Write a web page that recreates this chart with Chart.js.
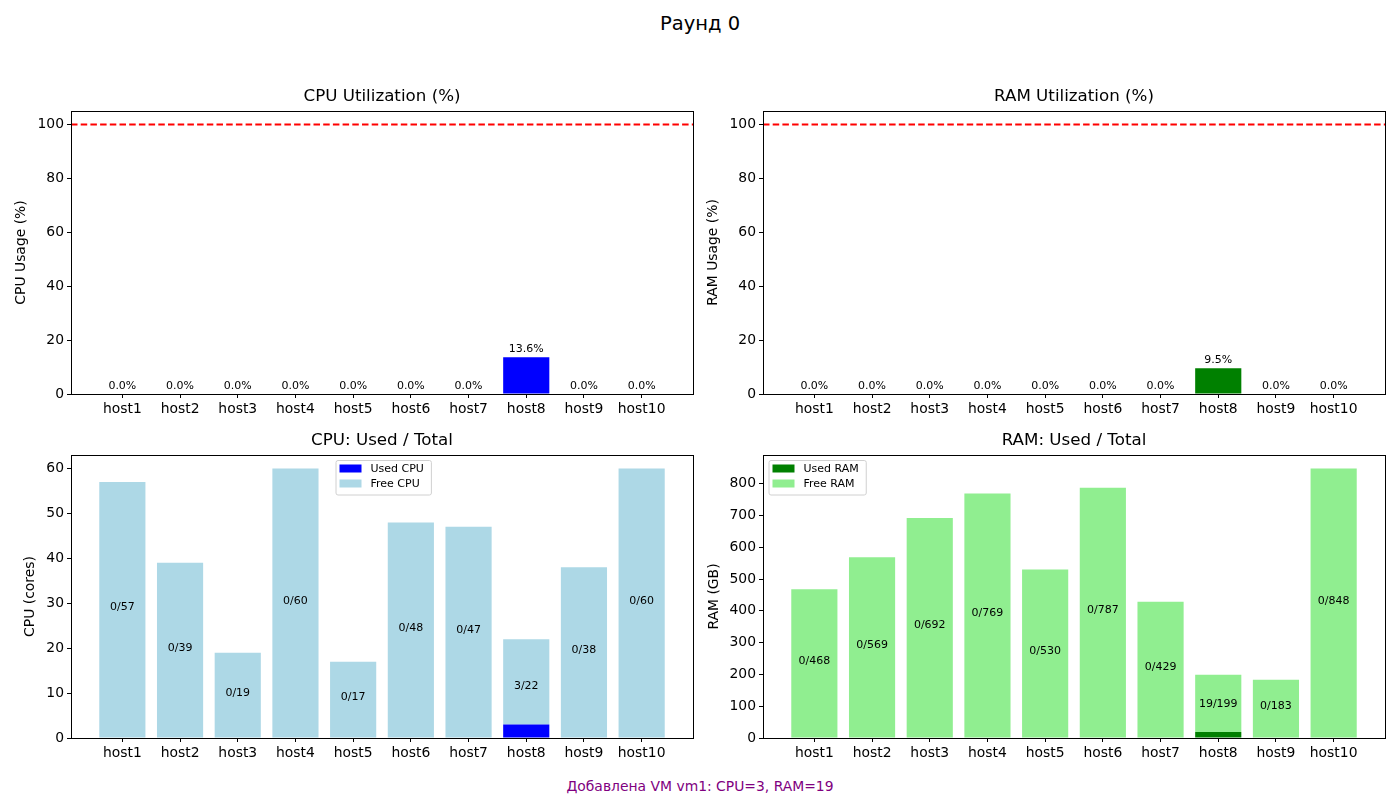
<!DOCTYPE html>
<html>
<head>
<meta charset="utf-8">
<script src="https://cdn.jsdelivr.net/npm/chart.js@4.4.1/dist/chart.umd.min.js"></script>
<style>
  body { margin: 0; background: #fff; font-family: "DejaVu Sans", sans-serif; }
  #fig { position: relative; width: 1400px; height: 800px; background: #fff; }
  canvas { position: absolute; }
  .txt { position: absolute; left: 0; width: 1400px; text-align: center; white-space: nowrap; }
</style>
</head>
<body>
<div id="fig">
  <div class="txt" id="suptitle" style="top: 12px; font-size: 19.5px; color: #000;">Раунд 0</div>
  <canvas id="cpuPct" width="700" height="340" style="left:0px; top:80px;"></canvas>
  <canvas id="ramPct" width="700" height="340" style="left:692px; top:80px;"></canvas>
  <canvas id="cpuAbs" width="700" height="340" style="left:0px; top:424px;"></canvas>
  <canvas id="ramAbs" width="700" height="340" style="left:692px; top:424px;"></canvas>
  <div class="txt" id="note" style="top: 778px; font-size: 13.9px; color: #800080;">Добавлена VM vm1: CPU=3, RAM=19</div>
</div>
<script>
// data
const hosts = ['host1', 'host2', 'host3', 'host4', 'host5', 'host6', 'host7', 'host8', 'host9', 'host10'];
const cpuTotal = [57, 39, 19, 60, 17, 48, 47, 22, 38, 60];
const cpuUsed = [0, 0, 0, 0, 0, 0, 0, 3, 0, 0];
const ramTotal = [468, 569, 692, 769, 530, 787, 429, 199, 183, 848];
const ramUsed = [0, 0, 0, 0, 0, 0, 0, 19, 0, 0];
const limitPct = 100;

// y tick labels
const pctTicks = [0, 20, 40, 60, 80, 100];
const cpuTicks = [0, 10, 20, 30, 40, 50, 60];
const ramTicks = [0, 100, 200, 300, 400, 500, 600, 700, 800];

const cpuPct = cpuUsed.map((u, i) => u / cpuTotal[i] * 100);
const ramPct = ramUsed.map((u, i) => u / ramTotal[i] * 100);

Chart.defaults.font.family = '"DejaVu Sans", sans-serif';
Chart.defaults.color = '#000';

// matplotlib style x range: bars 0.8 wide plus 5% margins
const xMin = -0.89, xMax = 9.89;

// full box around the plot area + title centred over the axes
const framePlugin = {
    id: 'frame',
    afterDraw(chart, args, opts) {
        const a = chart.chartArea, ctx = chart.ctx;
        ctx.save();
        ctx.strokeStyle = '#000';
        ctx.lineWidth = 1;
        ctx.strokeRect(Math.round(a.left) + 0.5, Math.round(a.top) + 0.5,
            Math.round(a.right - a.left), Math.round(a.bottom - a.top));
        if (opts.title) {
            ctx.fillStyle = '#000';
            ctx.font = '16.7px "DejaVu Sans", sans-serif';
            ctx.textAlign = 'center';
            ctx.textBaseline = 'middle';
            ctx.fillText(opts.title, (a.left + a.right) / 2, a.top - 14);
        }
        ctx.restore();
    }
};

// text over bars
const barTextPlugin = {
    id: 'barText',
    afterDatasetsDraw(chart, args, opts) {
        if (!opts.labels) return;
        const ctx = chart.ctx, xs = chart.scales.x, ys = chart.scales.y;
        ctx.save();
        ctx.font = '11px "DejaVu Sans", sans-serif';
        ctx.fillStyle = '#000';
        ctx.textAlign = 'center';
        opts.labels.forEach((lab, i) => {
            const px = xs.getPixelForValue(i);
            if (opts.mode === 'top') {
                ctx.textBaseline = 'bottom';
                ctx.fillText(lab, px, ys.getPixelForValue(opts.heights[i] + 1));
            } else {
                ctx.textBaseline = 'middle';
                ctx.fillText(lab, px, ys.getPixelForValue(opts.heights[i] / 2) - 2.5);
            }
        });
        ctx.restore();
    }
};

// legend drawn inside the axes, like matplotlib
const boxLegendPlugin = {
    id: 'boxLegend',
    afterDraw(chart, args, opts) {
        if (!opts.show) return;
        const ctx = chart.ctx, a = chart.chartArea;
        const sets = chart.data.datasets.filter(d => d.type !== 'line');
        ctx.save();
        ctx.font = '11px "DejaVu Sans", sans-serif';
        let tw = 0;
        sets.forEach(d => { tw = Math.max(tw, ctx.measureText(d.label).width); });
        const x = a.left + opts.dx, y = a.top + opts.dy;
        const w = tw + 42, h = 34.5;
        ctx.fillStyle = 'rgba(255,255,255,0.8)';
        ctx.strokeStyle = '#d0d0d0';
        ctx.lineWidth = 1;
        ctx.beginPath();
        ctx.roundRect(x + 0.5, y + 0.5, w, h, 2);
        ctx.fill();
        ctx.stroke();
        sets.forEach((d, k) => {
            const cy = y + 8.5 + k * 15;
            ctx.fillStyle = d.backgroundColor;
            ctx.fillRect(x + 4, cy - 4, 22, 8);
            ctx.fillStyle = '#000';
            ctx.textAlign = 'left';
            ctx.textBaseline = 'middle';
            ctx.fillText(d.label, x + 35, cy + 0.5);
        });
        ctx.restore();
    }
};

function axes(yMax, yTicks, yTitle, titlePad, stacked) {
    return {
        x: {
            type: 'linear', min: xMin, max: xMax, stacked: stacked, offset: false,
            grid: { display: true, offset: false, drawOnChartArea: false, drawTicks: true, tickLength: 4, color: '#000' },
            border: { display: false },
            ticks: {
                stepSize: 1, includeBounds: false, autoSkip: false, maxRotation: 0, padding: 3,
                font: { size: 13.9 },
                callback: v => (Number.isInteger(v) && hosts[v]) ? hosts[v] : ''
            },
            afterBuildTicks: s => { s.ticks = hosts.map((h, i) => ({ value: i })); },
            afterFit: s => { s.height = 26; }
        },
        y: {
            min: 0, max: yMax, stacked: stacked,
            grid: { display: true, drawOnChartArea: false, drawTicks: true, tickLength: 4, color: '#000' },
            border: { display: false },
            ticks: { autoSkip: false, padding: 3, font: { size: 13.9 } },
            afterBuildTicks: s => { s.ticks = yTicks.map(v => ({ value: v })); },
            title: { display: true, text: yTitle, font: { size: 13.9 }, padding: { top: titlePad, bottom: 0 } },
            afterFit: s => { s.width = 71; }
        }
    };
}

function baseOptions(title, scales, plugins) {
    return {
        responsive: false,
        animation: false,
        events: [],
        devicePixelRatio: 1,
        layout: { padding: { left: 0, right: 7, top: 31, bottom: 0 }, autoPadding: false },
        scales: scales,
        plugins: Object.assign({
            legend: { display: false },
            tooltip: { enabled: false },
            title: { display: false },
            frame: { title: title }
        }, plugins)
    };
}

function pctChart(id, title, yTitle, titlePad, pct, color) {
    return new Chart(document.getElementById(id), {
        type: 'bar',
        data: {
            datasets: [
                {
                    label: title,
                    data: pct.map((v, i) => ({ x: i, y: v })),
                    backgroundColor: color,
                    barPercentage: 1.0, categoryPercentage: 0.8
                },
                {
                    type: 'line',
                    label: 'limit',
                    data: [{ x: xMin, y: limitPct }, { x: xMax, y: limitPct }],
                    borderColor: '#ff0000', borderWidth: 1.8, borderDash: [6.5, 3.2],
                    pointRadius: 0, fill: false
                }
            ]
        },
        options: baseOptions(title, axes(105, pctTicks, yTitle, titlePad, false), {
            barText: { mode: 'top', heights: pct, labels: pct.map(v => v.toFixed(1) + '%') }
        }),
        plugins: [framePlugin, barTextPlugin]
    });
}

function absChart(id, title, yTitle, titlePad, used, total, names, colors, yMax, yTicks, legendDx) {
    return new Chart(document.getElementById(id), {
        type: 'bar',
        data: {
            datasets: [
                {
                    label: names[0],
                    data: used.map((v, i) => ({ x: i, y: v })),
                    backgroundColor: colors[0],
                    barPercentage: 1.0, categoryPercentage: 0.8
                },
                {
                    label: names[1],
                    data: total.map((t, i) => ({ x: i, y: t - used[i] })),
                    backgroundColor: colors[1],
                    barPercentage: 1.0, categoryPercentage: 0.8
                }
            ]
        },
        options: baseOptions(title, axes(yMax, yTicks, yTitle, titlePad, true), {
            barText: { mode: 'mid', heights: total, labels: total.map((t, i) => used[i] + '/' + t) },
            boxLegend: { show: true, dx: legendDx, dy: 5 }
        }),
        plugins: [framePlugin, barTextPlugin, boxLegendPlugin]
    });
}

pctChart('cpuPct', 'CPU Utilization (%)', 'CPU Usage (%)', 12.6, cpuPct, '#0000ff');
pctChart('ramPct', 'RAM Utilization (%)', 'RAM Usage (%)', 12.6, ramPct, '#008000');
absChart('cpuAbs', 'CPU: Used / Total', 'CPU (cores)', 21.6, cpuUsed, cpuTotal,
    ['Used CPU', 'Free CPU'], ['#0000ff', '#add8e6'], 63, cpuTicks, 264.5);
absChart('ramAbs', 'RAM: Used / Total', 'RAM (GB)', 13.6, ramUsed, ramTotal,
    ['Used RAM', 'Free RAM'], ['#008000', '#90ee90'], 890.4, ramTicks, 5.5);
</script>
</body>
</html>
